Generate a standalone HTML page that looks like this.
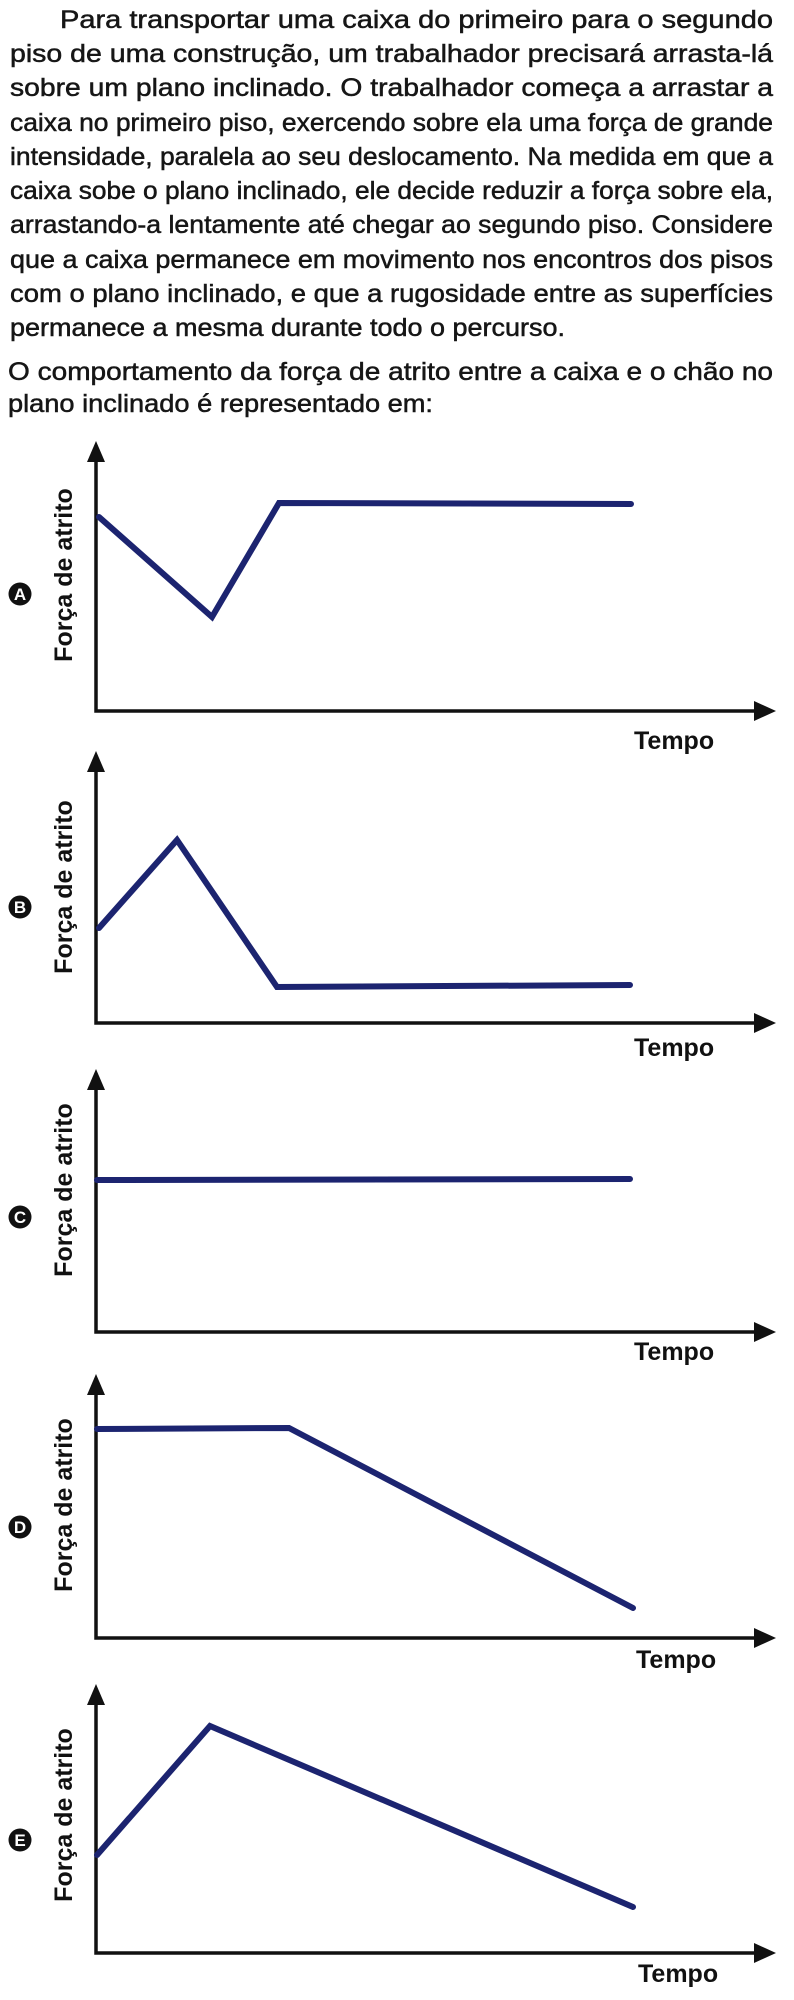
<!DOCTYPE html>
<html><head><meta charset="utf-8"><style>
html,body{margin:0;padding:0;background:#fff;}
svg{display:block;}
.t{font-family:"Liberation Sans",sans-serif;font-size:25px;fill:#161616;stroke:#161616;stroke-width:0.5;}
.l{font-family:"Liberation Sans",sans-serif;font-size:25px;font-weight:bold;fill:#111;}
.c{font-family:"Liberation Sans",sans-serif;font-size:17px;font-weight:bold;fill:#fff;}
.s{fill:none;stroke:#1c2470;stroke-width:6;stroke-linejoin:miter;stroke-linecap:round;}
.ax{fill:none;stroke:#111;stroke-width:3.5;}
</style></head><body>
<svg width="794" height="2000" viewBox="0 0 794 2000" xmlns="http://www.w3.org/2000/svg">
<rect width="794" height="2000" fill="#fff"/>
<g class="t">
<text x="60" y="28" textLength="713" lengthAdjust="spacingAndGlyphs">Para transportar uma caixa do primeiro para o segundo</text>
<text x="10" y="62" textLength="763" lengthAdjust="spacingAndGlyphs">piso de uma construção, um trabalhador precisará arrasta-lá</text>
<text x="10" y="96" textLength="763" lengthAdjust="spacingAndGlyphs">sobre um plano inclinado. O trabalhador começa a arrastar a</text>
<text x="10" y="131" textLength="763" lengthAdjust="spacingAndGlyphs">caixa no primeiro piso, exercendo sobre ela uma força de grande</text>
<text x="10" y="165" textLength="763" lengthAdjust="spacingAndGlyphs">intensidade, paralela ao seu deslocamento. Na medida em que a</text>
<text x="10" y="199" textLength="763" lengthAdjust="spacingAndGlyphs">caixa sobe o plano inclinado, ele decide reduzir a força sobre ela,</text>
<text x="10" y="233" textLength="763" lengthAdjust="spacingAndGlyphs">arrastando-a lentamente até chegar ao segundo piso. Considere</text>
<text x="10" y="268" textLength="763" lengthAdjust="spacingAndGlyphs">que a caixa permanece em movimento nos encontros dos pisos</text>
<text x="10" y="302" textLength="763" lengthAdjust="spacingAndGlyphs">com o plano inclinado, e que a rugosidade entre as superfícies</text>
<text x="10" y="336" textLength="555" lengthAdjust="spacingAndGlyphs">permanece a mesma durante todo o percurso.</text>
<text x="8" y="380" textLength="765" lengthAdjust="spacingAndGlyphs">O comportamento da força de atrito entre a caixa e o chão no</text>
<text x="8" y="412" textLength="425" lengthAdjust="spacingAndGlyphs">plano inclinado é representado em:</text>
</g>

<!-- A -->
<g>
<path class="ax" d="M96 450 V711 H768"/>
<polygon points="96,441 87,462 105,462" fill="#111"/>
<polygon points="776,711 754,701 754,721" fill="#111"/>
<polyline class="s" points="99,517 212,617 279,503 631,504"/>
<text class="l" transform="translate(72,575) rotate(-90)" text-anchor="middle">Força de atrito</text>
<circle cx="20" cy="594" r="11.5" fill="#111"/><text class="c" x="20" y="600" text-anchor="middle">A</text>
<text class="l" x="634" y="749">Tempo</text>
</g>

<!-- B -->
<g>
<path class="ax" d="M96 760 V1023 H768"/>
<polygon points="96,751 87,772 105,772" fill="#111"/>
<polygon points="776,1023 754,1013 754,1033" fill="#111"/>
<polyline class="s" points="99,928 177,840 277,987 630,985"/>
<text class="l" transform="translate(72,887) rotate(-90)" text-anchor="middle">Força de atrito</text>
<circle cx="20" cy="907" r="11.5" fill="#111"/><text class="c" x="20" y="913" text-anchor="middle">B</text>
<text class="l" x="634" y="1056">Tempo</text>
</g>

<!-- C -->
<g>
<path class="ax" d="M96 1078 V1332 H768"/>
<polygon points="96,1069 87,1090 105,1090" fill="#111"/>
<polygon points="776,1332 754,1322 754,1342" fill="#111"/>
<polyline class="s" points="97,1180 630,1179"/>
<text class="l" transform="translate(72,1190) rotate(-90)" text-anchor="middle">Força de atrito</text>
<circle cx="20" cy="1217" r="11.5" fill="#111"/><text class="c" x="20" y="1223" text-anchor="middle">C</text>
<text class="l" x="634" y="1360">Tempo</text>
</g>

<!-- D -->
<g>
<path class="ax" d="M96 1383 V1638 H768"/>
<polygon points="96,1374 87,1395 105,1395" fill="#111"/>
<polygon points="776,1638 754,1628 754,1648" fill="#111"/>
<polyline class="s" points="97,1429 289,1428 633,1608"/>
<text class="l" transform="translate(72,1505) rotate(-90)" text-anchor="middle">Força de atrito</text>
<circle cx="20" cy="1527" r="11.5" fill="#111"/><text class="c" x="20" y="1533" text-anchor="middle">D</text>
<text class="l" x="636" y="1668">Tempo</text>
</g>

<!-- E -->
<g>
<path class="ax" d="M96 1693 V1953 H768"/>
<polygon points="96,1684 87,1705 105,1705" fill="#111"/>
<polygon points="776,1953 754,1943 754,1963" fill="#111"/>
<polyline class="s" points="97,1855 210,1726 633,1907"/>
<text class="l" transform="translate(72,1815) rotate(-90)" text-anchor="middle">Força de atrito</text>
<circle cx="20" cy="1840" r="11.5" fill="#111"/><text class="c" x="20" y="1846" text-anchor="middle">E</text>
<text class="l" x="638" y="1982">Tempo</text>
</g>
</svg>
</body></html>
